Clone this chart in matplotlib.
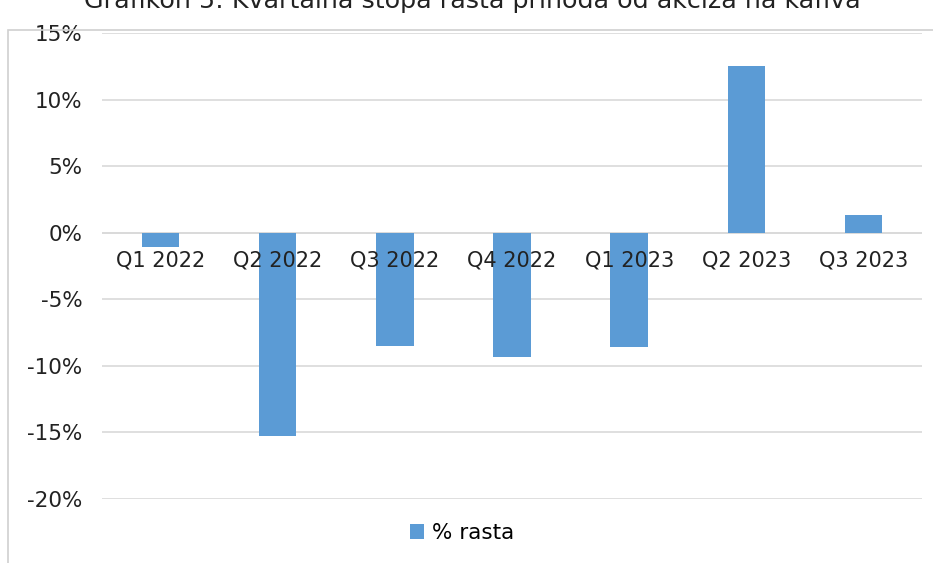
import matplotlib
matplotlib.use("Agg")
import matplotlib.pyplot as plt
from matplotlib.patches import Rectangle

categories = ["Q1 2022", "Q2 2022", "Q3 2022", "Q4 2022", "Q1 2023", "Q2 2023", "Q3 2023"]
values = [-1.1, -15.3, -8.5, -9.3, -8.6, 12.5, 1.3]
yticks = [15, 10, 5, 0, -5, -10, -15, -20]
title = "Grafikon 5: Kvartalna stopa rasta prihoda od akciza na kafiva"
series_name = "% rasta"

W, H = 933, 563
fig = plt.figure(figsize=(W / 100, H / 100), dpi=100)
plt.rcParams['font.family'] = ['DejaVu Sans']

left, right = 102 / W, 922 / W
top, bottom = 1 - 33 / H, 1 - 499 / H
ax = fig.add_axes([left, bottom, right - left, top - bottom])

x = list(range(len(categories)))
ax.bar(x, values, width=0.32, color="#5B9BD5", zorder=2, label=series_name)
ax.set_xlim(-0.5, len(categories) - 0.5)
ax.set_ylim(-20, 15)
ax.set_yticks(yticks)
ax.set_yticklabels([f"{t}%" for t in yticks], fontsize=15.5, color="#222222")
ax.tick_params(axis='y', length=0, pad=14)
ax.set_xticks([])
ax.grid(axis='y', color="#D9D9D9", linewidth=1.2, zorder=0)
for s in ax.spines.values():
    s.set_visible(False)
ax.axhline(0, color="#D9D9D9", linewidth=1.2, zorder=1)

for xi, c in zip(x, categories):
    ax.text(xi, -1.3, c, ha='center', va='top', fontsize=15, color="#222222", zorder=5)

fig.patches.append(Rectangle((8 / W, -0.1), 1.2, 1 - 30 / H + 0.1, transform=fig.transFigure,
                             fill=False, edgecolor="#D0D0D0", linewidth=1.2))

fig.text(472 / W, 1 - 8 / H, title, ha='center', va='baseline', fontsize=18.3, color="#222222")

leg = fig.legend(loc='center', bbox_to_anchor=(462 / W, 1 - 533 / H), frameon=False,
                 fontsize=15.5, handlelength=0.65, handleheight=0.65, handletextpad=0.35)

fig.savefig("out.png", dpi=100)
